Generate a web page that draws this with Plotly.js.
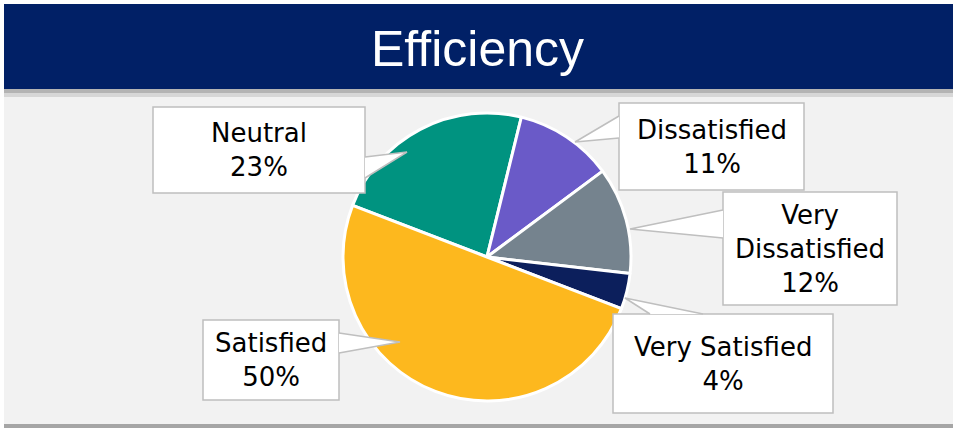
<!DOCTYPE html>
<html>
<head>
<meta charset="utf-8">
<script src="https://cdn.plot.ly/plotly-3.0.1.min.js"></script>
<style>
  html, body { margin: 0; padding: 0; background: #ffffff; }
  #chart { width: 953px; height: 428px; }
</style>
</head>
<body>
<div id="chart"></div>
<script>
// Data
var categories = ['Neutral', 'Dissatisfied', 'Very Dissatisfied', 'Very Satisfied', 'Satisfied'];
var boxLabels = ['Neutral', 'Dissatisfied', 'Very<br>Dissatisfied', 'Very Satisfied', 'Satisfied'];
var percents = [23, 11, 12, 4, 50];
var sliceColors = ['#009380', '#6a5ac8', '#75838e', '#0c1f5c', '#fdb81e'];

var W = 953, H = 428;
function px(x) { return x / W; }
function py(y) { return 1 - y / H; }

// callout boxes (pixels): box edges, pointer tip, pointer base on box edge
var callouts = [
  { box: [153, 107, 365, 193], tip: [407, 152], base: [[365, 157], [365, 178]] },
  { box: [619, 103, 804, 190], tip: [575, 142], base: [[619, 116], [619, 138]] },
  { box: [723, 192, 897, 305], tip: [630, 229], base: [[723, 210], [723, 238]] },
  { box: [613, 314, 833, 413], tip: [625, 298], base: [[650, 314], [703, 314]] },
  { box: [203, 320, 339, 400], tip: [400, 342], base: [[339, 333], [339, 353]] }
];

var pieData = [{
  type: 'pie',
  labels: categories,
  values: percents,
  sort: false,
  direction: 'clockwise',
  rotation: -69,
  textinfo: 'none',
  hoverinfo: 'label+percent',
  marker: {
    colors: sliceColors,
    line: { color: '#ffffff', width: 3 }
  },
  domain: { x: [px(343), px(631)], y: [py(401), py(113)] }
}];

var annotations = [{
  text: 'Efficiency',
  xref: 'paper', yref: 'paper',
  x: px(477), y: py(49),
  xanchor: 'center', yanchor: 'middle',
  showarrow: false,
  font: { family: 'Liberation Sans Narrow, Liberation Sans, Arial, sans-serif', size: 50, color: '#ffffff' }
}];

var shapes = [
  // body panel
  { type: 'rect', xref: 'paper', yref: 'paper', layer: 'below',
    x0: px(4), x1: 1, y0: py(428), y1: py(89),
    fillcolor: '#a6a6a6', line: { width: 0 } },
  { type: 'rect', xref: 'paper', yref: 'paper', layer: 'below',
    x0: px(4), x1: 1, y0: py(424), y1: py(89),
    fillcolor: '#f2f2f2', line: { width: 0 } },
  // header shadow
  { type: 'rect', xref: 'paper', yref: 'paper', layer: 'below',
    x0: px(4), x1: 1, y0: py(97), y1: py(89),
    fillcolor: 'rgba(120,120,120,0.22)', line: { width: 0 } },
  { type: 'rect', xref: 'paper', yref: 'paper', layer: 'below',
    x0: px(4), x1: 1, y0: py(93), y1: py(89),
    fillcolor: 'rgba(100,100,100,0.3)', line: { width: 0 } },
  // header band
  { type: 'rect', xref: 'paper', yref: 'paper', layer: 'below',
    x0: px(4), x1: 1, y0: py(89), y1: py(4),
    fillcolor: '#012066', line: { width: 0 } }
];

function pt(p) { return px(p[0]) + ',' + py(p[1]); }

categories.forEach(function(c, i) {
  var co = callouts[i];
  var b = co.box;
  // box
  shapes.push({ type: 'rect', xref: 'paper', yref: 'paper', layer: 'above',
    x0: px(b[0]), x1: px(b[2]), y0: py(b[3]), y1: py(b[1]),
    fillcolor: '#ffffff', line: { color: '#bfbfbf', width: 1.5 } });
  // pointer fill (covers box border at its base)
  shapes.push({ type: 'path', xref: 'paper', yref: 'paper', layer: 'above',
    path: 'M' + pt(co.base[0]) + 'L' + pt(co.tip) + 'L' + pt(co.base[1]) + 'Z',
    fillcolor: '#ffffff', line: { width: 0 } });
  // pointer sides
  shapes.push({ type: 'path', xref: 'paper', yref: 'paper', layer: 'above',
    path: 'M' + pt(co.base[0]) + 'L' + pt(co.tip) + 'L' + pt(co.base[1]),
    line: { color: '#bfbfbf', width: 1.5 } });

  annotations.push({
    text: boxLabels[i] + '<br>' + percents[i] + '%',
    xref: 'paper', yref: 'paper',
    x: px((b[0] + b[2]) / 2), y: py((b[1] + b[3]) / 2),
    xanchor: 'center', yanchor: 'middle',
    showarrow: false,
    align: 'center',
    font: { family: 'DejaVu Sans, sans-serif', size: 26, color: '#000000' }
  });
});

var layout = {
  width: W,
  height: H,
  margin: { l: 0, r: 0, t: 0, b: 0 },
  paper_bgcolor: '#ffffff',
  showlegend: false,
  shapes: shapes,
  annotations: annotations
};

Plotly.newPlot('chart', pieData, layout, { displayModeBar: false, staticPlot: true });
</script>
</body>
</html>
